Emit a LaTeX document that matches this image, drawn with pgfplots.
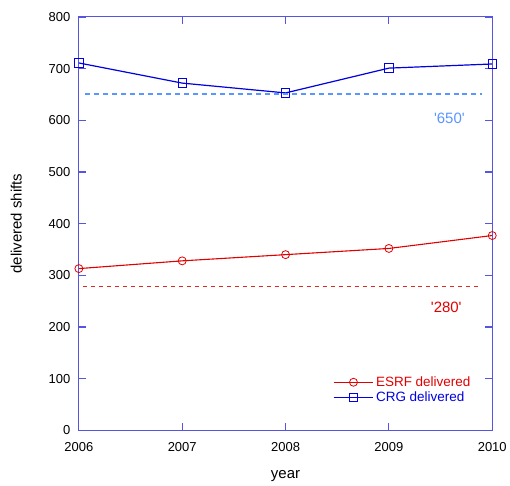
\documentclass[border=0pt]{standalone}
\usepackage{pgfplots}
\pgfplotsset{compat=1.18}
\usepackage{fontspec}
\setmainfont{Liberation Sans}
\newfontfamily\redtext[Color=E10000]{Liberation Sans}
\newfontfamily\bluetext[Color=0000E1]{Liberation Sans}
\newfontfamily\lighttext[Color=5A96FF]{Liberation Sans}
\definecolor{axblue}{RGB}{85,85,225}
\definecolor{lred}{RGB}{225,0,0}
\definecolor{lblue}{RGB}{0,0,225}
\definecolor{refblue}{RGB}{90,150,255}
\definecolor{refred}{RGB}{225,40,40}
\begin{document}
\begin{tikzpicture}
\begin{axis}[
  scale only axis, width=414pt, height=414pt,
  xmin=2006, xmax=2010, ymin=0, ymax=800,
  xtick={2006,2007,2008,2009,2010},
  ytick={0,100,...,800},
  x tick label style={/pgf/number format/1000 sep={}, yshift=-9pt},
  y tick label style={xshift=-5pt},
  /pgf/number format/assume math mode=true,
  tick label style={font=\fontsize{13}{15}\selectfont},
  label style={font=\fontsize{15}{17}\selectfont},
  xlabel={year}, ylabel={delivered shifts},
  xlabel style={yshift=-12pt},
  ylabel style={yshift=20pt},
  axis line style={draw=axblue, line width=1pt},
  major tick style={draw=axblue, line width=1.2pt},
  major tick length=7pt,
  tick align=inside,
  xtick pos=both, ytick pos=both,
  legend style={draw=none, fill=none, at={(0.955,0.058)}, anchor=south east, font=\fontsize{13.5}{15}\selectfont, row sep=0pt, inner sep=1pt},
  legend cell align=left,
  legend image code/.code={
    \draw[#1] (0pt,0pt) -- (40pt,0pt);
    \draw[#1, only marks] plot coordinates {(20pt,0pt)};
  },
]
\addplot[color=lred, line width=1.1pt, mark=o, mark size=4pt, mark options={line width=0.8pt}] coordinates {
(2006,313) (2007,328) (2008,340) (2009,352) (2010,377)};
\addlegendentry{\redtext ESRF delivered}
\addplot[color=lblue, line width=1.2pt, mark=square, mark size=4.3pt, mark options={line width=0.8pt}] coordinates {
(2006,711) (2007,672) (2008,653) (2009,701) (2010,709)};
\addlegendentry{\bluetext CRG delivered}
\addplot[draw=refblue, line width=1.2pt, dash pattern=on 5pt off 4pt, forget plot] coordinates {(2006.06,651) (2009.9,651)};
\addplot[draw=refred, line width=1pt, dash pattern=on 4pt off 4pt, forget plot] coordinates {(2006.04,278) (2009.9,278)};
\node[font=\fontsize{15}{17}\lighttext] at (axis cs:2009.585,604) {'650'};
\node[font=\fontsize{15}{17}\redtext] at (axis cs:2009.555,238) {'280'};
\end{axis}
\path (current axis.south west) ++(-79pt,-50pt) rectangle ([shift={(17pt,17pt)}]current axis.north east);
\end{tikzpicture}
\end{document}
